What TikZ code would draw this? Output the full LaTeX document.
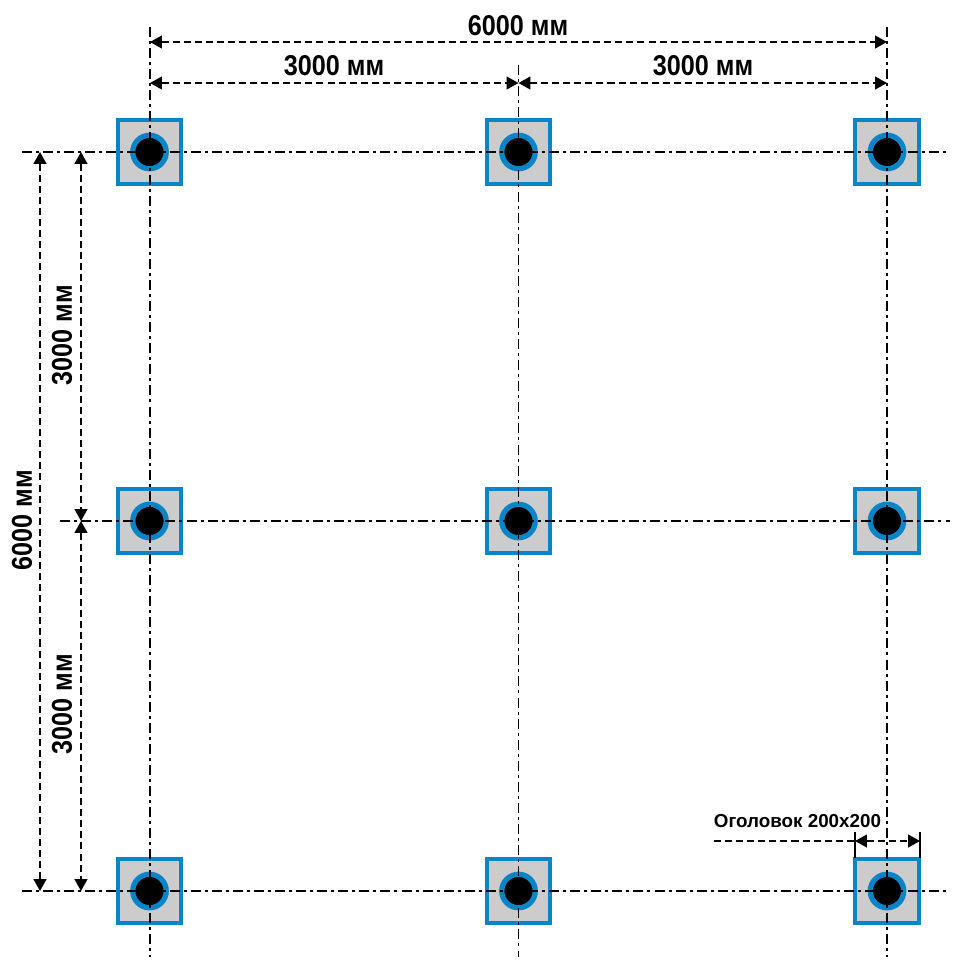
\documentclass[tikz,border=0pt]{standalone}
\usepackage{fontspec}
\usepackage{xcolor}
\setmainfont{Liberation Sans}
\newfontfamily\dimfont[FakeStretch=0.88]{Liberation Sans Bold}
\usetikzlibrary{arrows.meta}
\definecolor{pipeblue}{RGB}{8,133,198}
\definecolor{capgray}{RGB}{204,204,204}
\tikzset{
	ogolovok/.style={draw=pipeblue,fill=capgray,line width=2.3pt,minimum size=1.27cm,inner sep=0pt},
	pipe/.style={circle,draw=pipeblue,fill=black,line width=3pt,minimum size=0.67cm,inner sep=0pt},
	axisline/.style={line width=1pt,dash pattern=on 5.7pt off 2.3pt on 1.7pt off 2.3pt},
	dimline/.style={line width=1pt,dash pattern=on 4pt off 2.3pt,{Triangle[length=6.8pt,width=7.3pt]}-{Triangle[length=6.8pt,width=7.3pt]}},
	dimtext/.style={font=\dimfont\fontsize{16.3}{19}\selectfont,inner sep=0pt},
}
\begin{document}
\begin{tikzpicture}[x=0.02cm,y=-0.02cm]
\useasboundingbox (0,0) rectangle (960,965);
% caps
\node[ogolovok] (C11) at (149.5,152) {};
\node[ogolovok] (C12) at (518.5,152) {};
\node[ogolovok] (C13) at (887,152) {};
\node[ogolovok] (C21) at (149.5,521) {};
\node[ogolovok] (C22) at (518.5,521) {};
\node[ogolovok] (C23) at (887,521) {};
\node[ogolovok] (C31) at (149.5,891) {};
\node[ogolovok] (C32) at (518.5,891) {};
\node[ogolovok] (C33) at (887,891) {};
% pipes
\node[pipe] (P11) at (C11) {};
\node[pipe] (P12) at (C12) {};
\node[pipe] (P13) at (C13) {};
\node[pipe] (P21) at (C21) {};
\node[pipe] (P22) at (C22) {};
\node[pipe] (P23) at (C23) {};
\node[pipe] (P31) at (C31) {};
\node[pipe] (P32) at (C32) {};
\node[pipe] (P33) at (C33) {};
% axis ends
\coordinate (V1a) at (150,27);
\coordinate (V1b) at (150,957);
\coordinate (V2a) at (518.5,65);
\coordinate (V2b) at (518.5,957);
\coordinate (V3a) at (887,27);
\coordinate (V3b) at (887,957);
\coordinate (H1a) at (22,152);
\coordinate (H1b) at (947,152);
\coordinate (H2a) at (60,521);
\coordinate (H2b) at (950,521);
\coordinate (H3a) at (22,891);
\coordinate (H3b) at (947,891);
\draw[axisline] (V1a)--(V1b);
\draw[axisline] (V2a)--(V2b);
\draw[axisline] (V3a)--(V3b);
\draw[axisline] (H1a)--(H1b);
\draw[axisline] (H2a)--(H2b);
\draw[axisline] (H3a)--(H3b);
% top dimensions
\coordinate (T1) at (150,42);
\coordinate (T3) at (887,42);
\coordinate (U1) at (150,83);
\coordinate (U2) at (518.5,83);
\coordinate (U3) at (887,83);
\draw[dimline] (T1)--(T3);
\draw[dimline] (U1)--(U2);
\draw[dimline] (U2)--(U3);
\node[dimtext] (T6000) at (518,26) {6000 мм};
\node[dimtext] (U3000a) at (334,66) {3000 мм};
\node[dimtext] (U3000b) at (703,66) {3000 мм};
% left dimensions
\coordinate (L1) at (40,152);
\coordinate (L3) at (40,891);
\coordinate (M1) at (81,152);
\coordinate (M2) at (81,521);
\coordinate (M3) at (81,891);
\draw[dimline] (L1)--(L3);
\draw[dimline] (M1)--(M2);
\draw[dimline] (M2)--(M3);
\node[dimtext,rotate=90] (L6000) at (22,520) {6000 мм};
\node[dimtext,rotate=90] (M3000a) at (62,335) {3000 мм};
\node[dimtext,rotate=90] (M3000b) at (62,704) {3000 мм};
% cap size
\coordinate (Qa) at (855,832);
\coordinate (Qb) at (855,858);
\coordinate (Ra) at (920,832);
\coordinate (Rb) at (920,858);
\coordinate (Sa) at (714,841);
\coordinate (Sb) at (855,841);
\coordinate (Sc) at (920,841);
\draw[line width=1pt] (Qa)--(Qb);
\draw[line width=1pt] (Ra)--(Rb);
\draw[line width=1pt,dash pattern=on 4pt off 2.3pt] (Sa)--(Sb);
\draw[dimline] (Sb)--(Sc);
\node[font=\bfseries\fontsize{10.7}{13}\selectfont,inner sep=0pt] (Tcap) at (797.5,821) {Оголовок 200х200};
\end{tikzpicture}
\end{document}
